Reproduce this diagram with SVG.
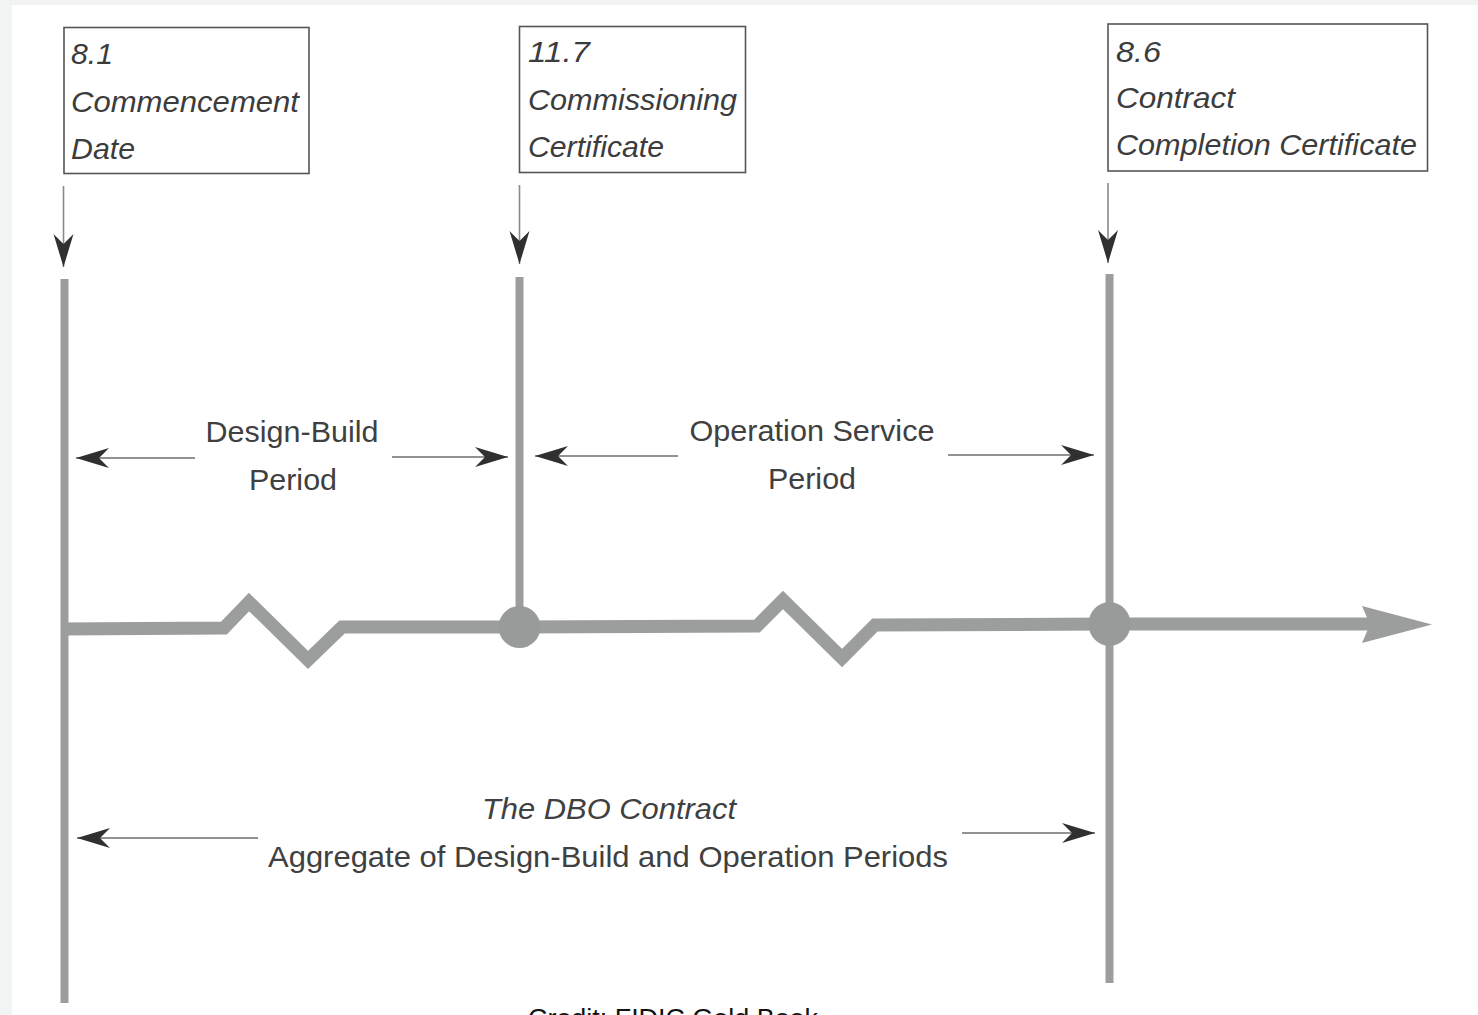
<svg xmlns="http://www.w3.org/2000/svg" width="1478" height="1015" viewBox="0 0 1478 1015">
  <defs>
    <style>
      .box { fill: #ffffff; stroke: #555555; stroke-width: 1.6; }
      .boxtext { font-family: "Liberation Sans", Arial, sans-serif; font-style: italic; font-size: 29px; fill: #3c3c3c; }
      .label { font-family: "Liberation Sans", Arial, sans-serif; font-size: 30px; fill: #404040; text-anchor: middle; }
      .pointer { stroke: #8a8a8a; stroke-width: 1.6; fill: none; }
      .span { stroke: #6e6e6e; stroke-width: 1.6; fill: none; marker-end: url(#head); }
      .bar { stroke: #9c9e9e; stroke-width: 8; fill: none; }
      .timeline { stroke: #9c9e9e; stroke-width: 13; fill: none; stroke-linejoin: miter; }
    </style>
    <!-- notched dark arrowhead used by every thin arrow -->
    <marker id="head" viewBox="-35 -11 36 22" refX="0" refY="0" markerWidth="36" markerHeight="22" markerUnits="userSpaceOnUse" orient="auto">
      <path d="M0,0 L-33,-10 L-23,0 L-33,10 Z" fill="#303030"/>
    </marker>
  </defs>

  <!-- page -->
  <rect x="0" y="0" width="1478" height="1015" fill="#f2f4f4"/>
  <rect x="12" y="5" width="1466" height="1010" fill="#ffffff"/>

  <!-- milestone boxes -->
  <g id="node-commencement">
    <rect class="box" x="64" y="27.5" width="245" height="146"/>
    <text class="boxtext" x="71" y="64" textLength="42" lengthAdjust="spacingAndGlyphs">8.1</text>
    <text class="boxtext" x="71" y="112" textLength="228" lengthAdjust="spacingAndGlyphs">Commencement</text>
    <text class="boxtext" x="71" y="159" textLength="64" lengthAdjust="spacingAndGlyphs">Date</text>
  </g>
  <g id="node-commissioning">
    <rect class="box" x="519.5" y="26.5" width="226" height="146"/>
    <text class="boxtext" x="528" y="62" textLength="62" lengthAdjust="spacingAndGlyphs">11.7</text>
    <text class="boxtext" x="528" y="110" textLength="209" lengthAdjust="spacingAndGlyphs">Commissioning</text>
    <text class="boxtext" x="528" y="157" textLength="136" lengthAdjust="spacingAndGlyphs">Certificate</text>
  </g>
  <g id="node-completion">
    <rect class="box" x="1108" y="24" width="319.5" height="147"/>
    <text class="boxtext" x="1116" y="62" textLength="45" lengthAdjust="spacingAndGlyphs">8.6</text>
    <text class="boxtext" x="1116" y="108" textLength="119" lengthAdjust="spacingAndGlyphs">Contract</text>
    <text class="boxtext" x="1116" y="155" textLength="301" lengthAdjust="spacingAndGlyphs">Completion Certificate</text>
  </g>

  <!-- period labels -->
  <g id="label-design-build">
    <text class="label" x="292" y="442" textLength="173" lengthAdjust="spacingAndGlyphs">Design-Build</text>
    <text class="label" x="293" y="490" textLength="88" lengthAdjust="spacingAndGlyphs">Period</text>
  </g>
  <g id="label-operation">
    <text class="label" x="812" y="441" textLength="245" lengthAdjust="spacingAndGlyphs">Operation Service</text>
    <text class="label" x="812" y="489" textLength="88" lengthAdjust="spacingAndGlyphs">Period</text>
  </g>
  <g id="label-dbo">
    <text class="label" x="609" y="819" font-style="italic" textLength="254" lengthAdjust="spacingAndGlyphs">The DBO Contract</text>
    <text class="label" x="608" y="867" textLength="680" lengthAdjust="spacingAndGlyphs">Aggregate of Design-Build and Operation Periods</text>
  </g>

  <!-- time bars and connectors -->
  <g id="connectors">
    <!-- pointers from boxes down to the bars -->
    <line class="pointer" x1="63.5" y1="186" x2="63.5" y2="267" marker-end="url(#head)"/>
    <line class="pointer" x1="519.5" y1="185" x2="519.5" y2="264" marker-end="url(#head)"/>
    <line class="pointer" x1="1108" y1="183" x2="1108" y2="263" marker-end="url(#head)"/>

    <!-- vertical milestone bars -->
    <line class="bar" x1="64.5" y1="279" x2="64.5" y2="1003"/>
    <line class="bar" x1="519.5" y1="277" x2="519.5" y2="627"/>
    <line class="bar" x1="1109.5" y1="274" x2="1109.5" y2="983"/>

    <!-- broken timeline -->
    <path class="timeline" d="M61,629 L224,628 L249,602 L308,660 L342,627 L519,627 L757,626 L783,600 L842,658 L875,625 L1109,624 L1370,624"/>
    <path d="M1362,606 L1432,624.5 L1362,643 L1370,624.5 Z" fill="#9c9e9e"/>
    <circle cx="519.5" cy="627" r="21" fill="#999b9b"/>
    <ellipse cx="1109.5" cy="624" rx="21" ry="22" fill="#999b9b"/>

    <!-- period spans -->
    <line class="span" x1="195" y1="458" x2="76" y2="458"/>
    <line class="span" x1="392" y1="457" x2="508" y2="457"/>
    <line class="span" x1="678" y1="456" x2="535" y2="456"/>
    <line class="span" x1="948" y1="455" x2="1094" y2="455"/>
    <line class="span" x1="258" y1="838" x2="77" y2="838"/>
    <line class="span" x1="962" y1="833" x2="1095" y2="833"/>
  </g>

  <!-- source line, cut by the page edge -->
  <text x="528" y="1027" font-family="Liberation Sans, Arial, sans-serif" font-size="25" fill="#111111" textLength="290" lengthAdjust="spacingAndGlyphs">Credit: FIDIC Gold Book</text>
</svg>
